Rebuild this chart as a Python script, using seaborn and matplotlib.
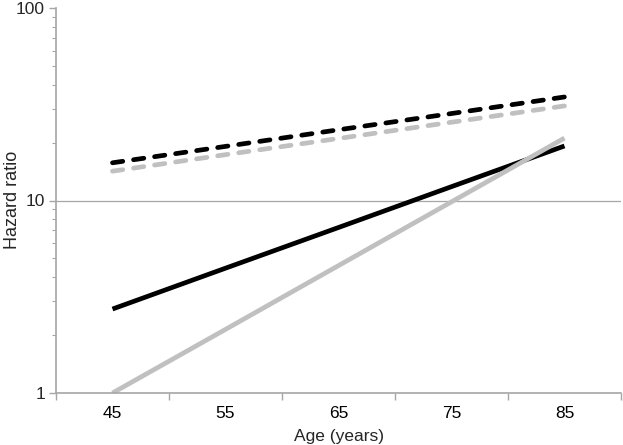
import matplotlib
matplotlib.use("Agg")
import matplotlib.pyplot as plt
import seaborn as sns
import pandas as pd
import numpy as np
from matplotlib.ticker import FixedLocator, NullFormatter, LogLocator

ages = ["45", "55", "65", "75", "85"]
black_dashed = [15.7, 19.1, 23.3, 28.3, 34.5]
grey_dashed = [14.2, 17.3, 21.0, 25.5, 31.0]
black_solid = [2.73, 4.45, 7.24, 11.8, 19.2]
grey_solid = [1.0, 2.14, 4.59, 9.84, 21.1]

sns.set_theme(style="white")
plt.rcParams['font.family'] = ['Liberation Sans', 'DejaVu Sans']

fig = plt.figure(figsize=(6.23, 4.45), dpi=100)
ax = fig.add_axes([56/623, 52/445, 565/623, 385/445])

pos = list(range(len(ages)))
series = [
    (black_solid, "#000000", "-"),
    (grey_solid, "#c0c0c0", "-"),
    (grey_dashed, "#c0c0c0", "--"),
    (black_dashed, "#000000", "--"),
]
for vals, col, ls in series:
    df = pd.DataFrame({"x": pos, "y": vals})
    sns.lineplot(data=df, x="x", y="y", ax=ax, color=col, linewidth=3.4)
    l = ax.lines[-1]
    if ls == "--":
        l.set_dashes((2.2, 2.3))
        l.set_dash_capstyle("round")
    else:
        l.set_solid_capstyle("butt")

ax.set_yscale("log")
ax.set_ylim(1, 100)
ax.set_xlim(-0.5, 4.5)

ax.set_yticks([1, 10, 100])
ax.set_yticklabels(["1", "10", "100"])
ax.yaxis.set_minor_locator(LogLocator(base=10, subs=np.arange(2, 10)))
ax.yaxis.set_minor_formatter(NullFormatter())

ax.set_xticks(pos)
ax.set_xticklabels(ages)
ax.xaxis.set_minor_locator(FixedLocator([-0.5, 0.5, 1.5, 2.5, 3.5, 4.5]))

spine_col = "#a6a6a6"
ax.tick_params(axis="x", which="major", length=0, labelsize=12.5, pad=9, colors="black")
ax.tick_params(axis="x", which="minor", length=5, width=1, color=spine_col, direction="out", bottom=True)
ax.tick_params(axis="y", which="major", length=5, width=1, color=spine_col, labelsize=12.5, left=True, pad=3)
ax.tick_params(axis="y", which="minor", length=3, width=0.8, color=spine_col, left=True)

for s in ["top", "right"]:
    ax.spines[s].set_visible(False)
for s in ["left", "bottom"]:
    ax.spines[s].set_color(spine_col)
    ax.spines[s].set_linewidth(1.2)

ax.axhline(10, color="#a6a6a6", linewidth=0.9, zorder=0)

ax.set_xlabel("Age (years)", fontsize=12.5, labelpad=6)
ax.set_ylabel("")
fig.text(13/623, 1 - 200/445, "Hazard ratio", rotation=90, fontsize=13,
         ha="center", va="center")

fig.savefig("out.png", dpi=100)
